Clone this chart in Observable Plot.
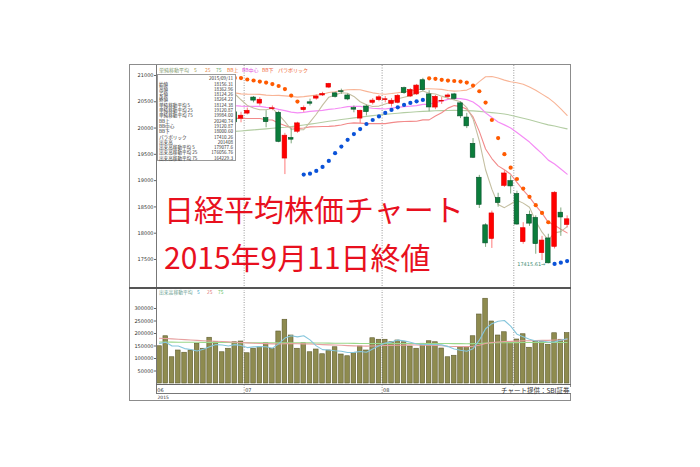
<!DOCTYPE html>
<html><head><meta charset="utf-8">
<script src="https://cdn.jsdelivr.net/npm/d3@7"></script>
<script src="https://cdn.jsdelivr.net/npm/@observablehq/plot@0.6"></script>
<style>
html,body{margin:0;padding:0;background:#fff;overflow:hidden;}
#wrap{position:relative;width:700px;height:467px;overflow:hidden;font-family:"Noto Sans CJK JP","DejaVu Sans",sans-serif;}
#wrap svg{position:absolute;left:0;top:0;background:transparent;}
.ln{position:absolute;background:#8c8c8c;}
.t{position:absolute;white-space:nowrap;line-height:1;}
</style></head><body><div id="wrap"></div>
<script>
// ---------- data ----------
const dates = ["6/11","6/12","6/15","6/16","6/17","6/18","6/19","6/22","6/23","6/24","6/25","6/26","6/29","6/30",
"7/1","7/2","7/3","7/6","7/7","7/8","7/9","7/10","7/13","7/14","7/15","7/16","7/17","7/21","7/22","7/23","7/24","7/27","7/28","7/29","7/30","7/31",
"8/3","8/4","8/5","8/6","8/7","8/10","8/11","8/12","8/13","8/14","8/17","8/18","8/19","8/20","8/21","8/24","8/25","8/26","8/27","8/28","8/31",
"9/1","9/2","9/3","9/4","9/7","9/8","9/9","9/10","9/11"];
const open = [20200,20450,20350,20300,20300,20150,20050,20300,20550,20850,20900,20650,20300,
20178,20275,20580,20465,20190,20360,20290,19420,19810,19930,20340,20490,20560,20620,20770,20660,20700,20620,20380,20180,20410,20480,20530,
20530,20460,20480,20760,20600,20640,20910,20640,20390,20505,20590,20640,20470,20200,19700,19055,18150,17890,18670,18900,18990,
18745,17830,18350,18290,17620,17900,17740,18390,18156.31];
const high = [20400,20500,20420,20350,20350,20180,20200,20440,20830,20953,20950,20760,20350,
20300,20380,20600,20580,20330,20420,20320,19900,19990,20110,20420,20550,20630,20680,20850,20680,20740,20650,20420,20340,20440,20560,20620,
20600,20560,20640,20780,20750,20830,20946,20710,20620,20580,20650,20660,20500,20280,19800,19100,18180,18420,18760,19190,19090,
18800,18200,18420,18330,17940,17980,18790,18480,18330];
const low = [20150,20350,20300,20180,20180,19900,19950,20250,20530,20800,20740,20600,20080,
20100,20250,20480,20420,20005,20330,19720,19115,19700,19900,20300,20420,20530,20600,20750,20570,20640,20520,20290,20082,20230,20440,20500,
20480,20400,20460,20640,20580,20620,20700,20310,20350,20450,20540,20530,20180,19990,19420,18470,17730,17710,18495,18870,18745,
18150,17790,18130,17600,17480,17415.61,17700,17940,18100];
const close = [20382,20407,20387,20257,20219,19990,20174,20428,20809,20868,20771,20706,20109,
20235,20329,20522,20539,20112,20376,19737,19855,19779,20089,20385,20463,20600,20650,20841,20593,20683,20544,20350,20329,20303,20522,20585,
20548,20520,20614,20664,20724,20808,20720,20392,20595,20519,20620,20554,20222,20033,19435,18540,17806,18376,18574,19136,18890,
18165,18095,18182,17792,17860,17427,18770,18299,18264.22];
const ma5 = [20288,20278,20264,20296,20330,20252,20205,20214,20324,20454,20610,20716,20653,20538,20430,20380,20347,20347,20376,20257,
20124,19972,19967,19969,20114,20263,20437,20588,20629,20673,20662,20602,20500,20442,20410,20418,20457,20496,20558,20586,
20614,20666,20706,20662,20648,20607,20569,20536,20502,20390,20173,19757,19207,18838,18546,18486,18556,18628,18572,18494,
18225,18019,17871,18006,18030,18124];
const ma75 = [19815,19825,19835,19845,19855,19862,19870,19880,19892,19905,19918,19928,19937,19945,19955,19965,19975,19985,19995,20005,
20015,20028,20042,20058,20075,20092,20110,20128,20145,20162,20178,20193,20208,20222,20236,20249,20261,20272,20283,20293,
20302,20310,20317,20323,20328,20332,20335,20336,20335,20332,20327,20318,20306,20294,20281,20266,20245,20216,20187,20158,
20125,20093,20060,20040,20012,19984];
const bbUpper = [20560,20580,20590,20595,20590,20580,20570,20560,20580,20620,20660,20680,20670,
20650,20645,20643,20641,20627,20619,20621,20612,20603,20589,20598,20612,20626,20642,20676,20692,20715,20728,20732,20728,
20698,20670,20654,20642,20656,20673,20690,20704,20724,20747,20748,20744,20736,20713,20703,20709,20722,20777,20883,20977,
20980,20951,20912,20880,20862,20833,20779,20718,20645,20573,20478,20366,20240];
const bbMid = [20169,20210,20241,20266,20284,20301,20319,20340,20371,20398,20421,20439,20427,20418,20413,20412,20411,20392,20386,20356,
20331,20304,20289,20300,20317,20326,20336,20354,20367,20386,20408,20415,20411,20391,20377,20369,20363,20380,20395,20408,
20416,20427,20451,20452,20486,20513,20546,20565,20559,20541,20495,20410,20289,20200,20116,20060,20001,19915,19826,19733,
19621,19513,19390,19316,19221,19123];
const bbLower = [19780,19840,19890,19937,19978,20022,20068,20120,20162,20176,20182,20198,20184,
20186,20181,20181,20181,20157,20153,20091,20050,20005,19989,20002,20022,20026,20030,20032,20042,20057,20088,20098,20094,
20084,20084,20084,20084,20104,20117,20126,20128,20130,20155,20156,20228,20290,20379,20427,20409,20360,20213,19937,19601,
19420,19281,19208,19122,18968,18819,18687,18524,18381,18207,18154,18076,18006];
const sar = [20660,20650,20640,20620,20600,20575,19900,19910,19925,19950,19990,20040,20953,
20950,20924,20905,20885,20866,20837,20800,20742,20618,20503,
19115,19132,19184,19260,19375,19522,19648,19776,19885,19981,20077,20153,20222,20287,20344,20394,20440,20478,20509,20535,
20946,20937,20918,20904,20895,20885,20866,20809,20700,20484,20153,19809,19503,19247,19031,18849,18692,18533,18386,18208,
17415,17440,17470];
const sarAbove = [1,1,1,1,1,1,0,0,0,0,0,0,1,
1,1,1,1,1,1,1,1,1,1,
0,0,0,0,0,0,0,0,0,0,0,0,0,0,0,0,0,0,0,0,
1,1,1,1,1,1,1,1,1,1,1,1,1,1,1,1,1,1,1,1,
0,0,0];
const volume = [149000,189000,105000,132000,123000,132000,159000,139000,183000,165000,125000,139000,165000,168000,
121000,139000,145000,161000,139000,208000,255000,192000,139000,161000,125000,136000,117000,132000,145000,116000,109000,121000,148000,132000,181000,175000,
175000,165000,172000,165000,148000,139000,159000,169000,165000,140000,105000,111000,145000,145000,189000,276000,339000,248000,192000,205000,165000,
176000,197000,143000,169000,165000,155000,201000,175000,201408];
const volMa5 = [160000,165000,150000,150000,139600,136200,130200,137000,147200,155600,154200,150200,155400,152400,
143600,146400,147600,146800,141000,158400,181600,191000,186600,191000,174400,150600,135600,134200,131000,129200,123800,124600,127800,125200,138200,151400,
162200,165600,173600,170400,165000,157800,156600,156000,156000,154400,147600,138000,133200,129200,139000,173200,218800,239400,248800,252000,229800,
197200,187000,177200,170000,170000,165800,166600,173000,179078];
const volMa25 = [181000,180000,178500,177000,175500,174000,172500,171000,170000,169000,168000,166500,165000,164000,
162500,161000,160000,159500,158500,158000,159000,159500,159000,158500,158000,157000,155500,154500,154000,153000,151500,150500,150000,149500,150000,151000,
152000,152500,153000,153500,154500,154000,153500,153000,152000,151000,149000,148000,148000,147500,149000,153000,160000,164000,166000,168000,168500,
169500,171000,171000,172000,172500,172500,174000,174500,176057];
const volMa75 = [166000,165700,165500,165300,165200,164900,164800,164500,164400,164100,164000,163700,163600,163300,
163200,162900,162800,162600,162400,162500,162600,162700,162700,162600,162400,162200,161900,161600,161300,161000,160700,160400,160100,159900,159800,159800,
159800,159800,159900,160000,160000,160100,160000,160100,160200,160100,159900,159600,159400,159300,159500,160200,161400,162200,162700,163200,163400,
163600,163900,163900,164000,164000,163900,164000,164100,164229];
const priceTicks = [17500,18000,18500,19000,19500,20000,20500,21000];
const volTicks = [50000,100000,150000,200000,250000,300000];
const monthLabels = ["06","07","08"];
const monthStart = [0,14,36,57];
const yearLabel = "2015";
const legendItems = ["単純移動平均","5","25","75","BB上","BB中心","BB下","パラボリック"];
const volLegendItems = ["出来高移動平均","5","25","75"];
const boxDate = "2015/09/11";
const boxLabels = ["始値","高値","安値","終値","単純移動平均 5","単純移動平均 25","単純移動平均 75","BB上","BB中心","BB下","パラボリック","出来高","出来高移動平均 5","出来高移動平均 25","出来高移動平均 75"];
const boxValues = ["18156.31","18362.96","18124.26","18264.22","18124.38","19120.87","19984.00","20240.74","19120.87","18000.60","17410.26","201408","179077.6","176056.76","164229.3"];
const titleLines = ["日経平均株価チャート","2015年9月11日終値"];
const credit = "チャート提供：SBI証券";

// ---------- drawing ----------
const wrap = document.getElementById("wrap");
const N = dates.length;
const idx = d3.range(N);
const rows = idx.map(i => ({i, o: open[i], h: high[i], l: low[i], c: close[i], v: volume[i]}));
const rise = d => d.c >= d.o;
const xDomain = [-0.478, 65.70];
const bounds = monthStart.slice(1).map(s => s - 0.5);
const common = {width: 700, height: 467, marginLeft: 156, marginRight: 129,
  style: {background: "transparent", fontFamily: "DejaVu Sans, sans-serif", fontSize: "5px", color: "#333"}};
const line = (arr, stroke, w=1.1) => Plot.line(idx.filter(i => arr[i] != null), {x: i => i, y: i => arr[i], stroke, strokeWidth: w});
const lowIdx = d3.minIndex(low);

const price = Plot.plot({
  ...common, marginTop: 65, marginBottom: 180,
  x: {domain: xDomain, axis: null, label: null},
  y: {domain: [16967, 21190], axis: null, label: null},
  marks: [
    Plot.ruleX(bounds, {stroke: "#999", strokeDasharray: "1 1.5"}),
    line(bbUpper, "#f8b496"),
    line(ma75, "#b3cda3"),
    line(bbLower, "#f28a8a"),
    line(bbMid, "#f58cf5", 1.2),
    line(ma5, "#c4bea0"),
    Plot.ruleX(rows, {x: "i", y1: "l", y2: "h", stroke: d => rise(d) ? "#ff7a7a" : "#7fa87f", strokeWidth: 1}),
    Plot.rect(rows, {x1: d => d.i - 0.37, x2: d => d.i + 0.37, y1: d => Math.min(d.o, d.c), y2: d => Math.max(d.o, d.c),
      fill: d => rise(d) ? "#ff0000" : "#0b7d3b", stroke: d => rise(d) ? "#e00000" : "#05502a", strokeWidth: 0.6}),
    Plot.dot(idx, {x: i => i, y: i => sar[i], r: 2.1, fill: i => sarAbove[i] ? "#ff5a00" : "#0a52d8", stroke: null}),
    Plot.text([lowIdx], {x: i => i, y: i => low[i], text: i => d3.format(".2f")(low[i]) + "→", textAnchor: "end", dx: -3, fill: "#3d8d72", fontSize: 5}),
    Plot.axisY(priceTicks, {anchor: "left", label: null, tickSize: 2, tickPadding: 1, tickFormat: d => String(d), fontSize: 5, stroke: "#666"})
  ]
});
wrap.appendChild(price);

const vol = Plot.plot({
  ...common, marginTop: 290, marginBottom: 84,
  x: {domain: xDomain, axis: null, label: null},
  y: {domain: [0, 372000], axis: null, label: null},
  marks: [
    Plot.ruleX(bounds, {y1: -40000, y2: 372000, stroke: "#999", strokeDasharray: "1 1.5"}),
    Plot.rect(rows, {x1: d => d.i - 0.37, x2: d => d.i + 0.37, y1: 0, y2: "v", fill: "#8e8b4f", stroke: "#5d5b2d", strokeWidth: 0.6}),
    line(volMa75, "#9ad88a"),
    line(volMa25, "#e7a0a0"),
    line(volMa5, "#86c6dc"),
    Plot.axisY(volTicks, {anchor: "left", label: null, tickSize: 2, tickPadding: 1, tickFormat: d => String(d), fontSize: 5, stroke: "#666"}),
    Plot.text(monthLabels, {x: (d, i) => monthStart[i] - 0.5, y: -26000, text: d => d, textAnchor: "start", dx: 1, fontSize: 5, fill: "#333"}),
    Plot.text([yearLabel], {x: xDomain[0], y: -55000, text: d => d, textAnchor: "start", dx: 1, fontSize: 4.5, fill: "#333"})
  ]
});
wrap.appendChild(vol);

// frame lines
function ln(x, y, w, h, c) { const d = document.createElement("div"); d.className = "ln";
  Object.assign(d.style, {left: x + "px", top: y + "px", width: w + "px", height: h + "px"}); if (c) d.style.background = c; wrap.appendChild(d); }
ln(129, 64, 442, 1); ln(129, 64, 1, 337); ln(570, 64, 1, 337); ln(129, 400, 442, 1);
ln(155.5, 65, 1, 328, "#777"); ln(129, 287, 442, 2, "#555");
ln(156, 384, 415, 1, "#666"); ln(156, 393, 415, 1, "#777");

function txt(s, x, y, size, color, extra) { const d = document.createElement("div"); d.className = "t"; d.textContent = s;
  Object.assign(d.style, {left: x + "px", top: y + "px", fontSize: size + "px", color}, extra || {}); wrap.appendChild(d); return d; }

// top legend
const legX = [159, 194, 205, 216, 227, 242, 262, 278];
const legC = ["#7f9a6d", "#a2a35a", "#e8965a", "#6fae6f", "#f07a3c", "#e050e0", "#f06a4a", "#f0602a"];
legendItems.forEach((s, i) => txt(s, legX[i], 66.5, 5, legC[i]));
// volume legend
const vlegX = [159, 197, 207, 218];
const vlegC = ["#5f9a8a", "#3aa6c8", "#e07878", "#5fbf5f"];
volLegendItems.forEach((s, i) => txt(s, vlegX[i], 290, 4.8, vlegC[i]));

// info box
const box = document.createElement("div");
Object.assign(box.style, {position: "absolute", left: "157px", top: "74px", width: "79px", height: "87px", background: "#fff", border: "1px solid #9a9a9a", boxSizing: "border-box"});
wrap.appendChild(box);
txt(boxDate, 203, 75.5, 4.6, "#333", {width: "30px", textAlign: "right"});
boxLabels.forEach((s, i) => {
  txt(s, 159, 81.5 + i * 5.3, 4.6, "#333");
  txt(boxValues[i], 200, 81.5 + i * 5.3, 4.6, "#333", {width: "33px", textAlign: "right"});
});

// credit
txt(credit, 499, 386.5, 6.5, "#333", {background: "#fff", padding: "0 2px"});

// big title
txt(titleLines[0], 164, 193, 30, "#e8101e", {lineHeight: "30px"});
txt(titleLines[1], 164, 241, 30, "#e8101e", {lineHeight: "30px"});
</script></body></html>
